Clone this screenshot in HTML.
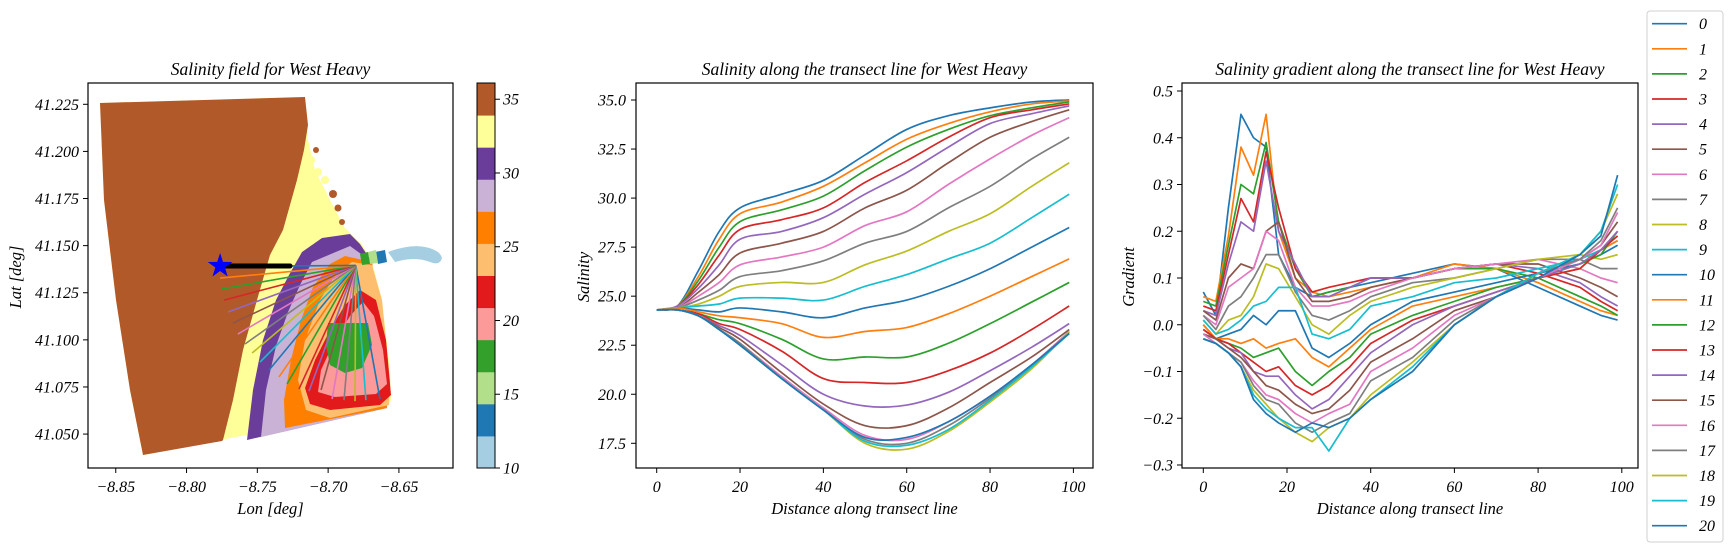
<!DOCTYPE html>
<html><head><meta charset="utf-8">
<style>
html,body{margin:0;padding:0;background:#fff;}
svg{display:block;font-family:"Liberation Serif","DejaVu Serif",serif;font-style:italic;}
</style></head>
<body>
<svg id="fig" width="1733" height="552" viewBox="0 0 1733 552" xmlns="http://www.w3.org/2000/svg"></svg>
<script>
// ---------- data ----------
const seriesNames = ["0","1","2","3","4","5","6","7","8","9","10","11","12","13","14","15","16","17","18","19","20"];
const tab10 = ["#1f77b4","#ff7f0e","#2ca02c","#d62728","#9467bd","#8c564b","#e377c2","#7f7f7f","#bcbd22","#17becf"];
// salinity along transect
const salX = [0,5,10,15,20,30,40,50,60,70,80,90,99];
const salS0 = [24.3,24.5,26.3,28.3,29.5,30.2,30.9,32.2,33.5,34.2,34.6,34.9,35.0];
const salS1 = [24.3,24.5,26.0,27.9,29.2,29.8,30.6,31.8,33.0,33.8,34.4,34.8,34.95];
const salS2 = [24.3,24.5,25.8,27.5,28.8,29.4,30.1,31.4,32.6,33.5,34.2,34.6,34.9];
const salS3 = [24.3,24.5,25.6,27.1,28.4,28.9,29.5,30.8,31.9,33.1,34.1,34.5,34.8];
const salS4 = [24.3,24.5,25.4,26.6,27.9,28.3,29.0,30.2,31.3,32.6,33.8,34.3,34.7];
const salS5 = [24.3,24.4,25.2,26.1,27.2,27.7,28.3,29.5,30.4,31.8,33.1,33.9,34.5];
const salS6 = [24.3,24.4,25.0,25.7,26.6,27.0,27.5,28.6,29.3,30.7,32.0,33.2,34.1];
const salS7 = [24.3,24.4,24.8,25.3,26.0,26.3,26.8,27.7,28.3,29.5,30.6,32.0,33.1];
const salS8 = [24.3,24.4,24.6,25.0,25.5,25.7,25.7,26.6,27.3,28.3,29.2,30.6,31.8];
const salS9 = [24.3,24.4,24.5,24.6,24.9,24.9,24.8,25.5,26.1,26.9,27.7,29.0,30.2];
const salS10 = [24.3,24.4,24.3,24.2,24.4,24.2,23.9,24.4,24.8,25.5,26.4,27.5,28.5];
const salS11 = [24.3,24.4,24.2,24.0,23.9,23.6,22.9,23.2,23.4,24.1,25.0,26.0,26.9];
const salS12 = [24.3,24.3,24.1,23.8,23.6,22.8,21.8,21.9,21.9,22.6,23.6,24.7,25.7];
const salS13 = [24.3,24.3,24.1,23.6,23.3,22.2,20.8,20.6,20.6,21.2,22.1,23.3,24.5];
const salS14 = [24.3,24.3,24.0,23.5,23.0,21.5,20.0,19.4,19.45,20.1,21.2,22.4,23.6];
const salS15 = [24.3,24.3,24.0,23.4,22.8,21.1,19.5,18.4,18.4,19.3,20.6,21.9,23.3];
const salS16 = [24.3,24.3,24.0,23.3,22.6,20.9,19.3,17.9,17.7,18.6,19.9,21.5,23.2];
const salS17 = [24.3,24.3,24.0,23.3,22.6,20.8,19.2,17.7,17.5,18.4,19.8,21.4,23.2];
const salS18 = [24.3,24.3,24.0,23.3,22.5,20.8,19.2,17.5,17.2,18.1,19.6,21.3,23.2];
const salS19 = [24.3,24.3,24.0,23.3,22.5,20.8,19.2,17.6,17.4,18.2,19.7,21.4,23.1];
const salS20 = [24.3,24.3,24.0,23.3,22.5,20.8,19.2,17.8,17.8,18.6,19.9,21.5,23.1];
const salSeries = [salS0,salS1,salS2,salS3,salS4,salS5,salS6,salS7,salS8,salS9,salS10,salS11,salS12,salS13,salS14,salS15,salS16,salS17,salS18,salS19,salS20];
const salTicksY = [17.5,20.0,22.5,25.0,27.5,30.0,32.5,35.0];
const distTicks = [0,20,40,60,80,100];
// gradient along transect
const grX = [0,3,6,9,12,15,18,22,26,30,35,40,50,60,70,80,90,95,99];
const grS0 = [.07,.02,.25,.45,.40,.38,.15,.08,.06,.07,.08,.09,.11,.13,.12,.08,.04,.02,.01];
const grS1 = [.06,.05,.19,.38,.32,.45,.2,.1,.07,.06,.07,.08,.1,.13,.12,.09,.05,.03,.02];
const grS2 = [.05,.04,.17,.3,.28,.39,.22,.12,.06,.07,.08,.1,.1,.12,.12,.1,.06,.04,.02];
const grS3 = [.04,.03,.15,.27,.22,.37,.25,.12,.07,.08,.09,.1,.1,.12,.13,.11,.08,.05,.03];
const grS4 = [.03,.02,.13,.22,.2,.35,.2,.13,.06,.06,.08,.1,.1,.12,.13,.12,.09,.06,.04];
const grS5 = [.03,.01,.1,.13,.12,.2,.22,.1,.05,.05,.06,.08,.1,.12,.13,.13,.1,.08,.06];
const grS6 = [.02,.0,.08,.1,.12,.2,.18,.08,.04,.04,.05,.07,.1,.12,.13,.14,.12,.1,.09];
const grS7 = [.02,-.01,.04,.06,.1,.15,.15,.07,.02,.01,.03,.06,.09,.1,.12,.14,.14,.12,.12];
const grS8 = [.01,-.02,.01,.02,.06,.13,.12,.06,.0,-.02,.02,.05,.08,.1,.12,.14,.15,.14,.15];
const grS9 = [.01,-.02,-.01,.01,.04,.05,.08,.08,-.02,-.03,-.01,.04,.06,.09,.1,.12,.14,.16,.18];
const grS10 = [.0,-.03,-.02,-.01,.02,.0,.03,.03,-.05,-.07,-.04,.0,.05,.07,.09,.11,.13,.15,.17];
const grS11 = [.0,-.03,-.03,-.04,-.03,-.05,-.04,-.03,-.07,-.09,-.05,-.01,.04,.06,.08,.1,.12,.16,.18];
const grS12 = [-.01,-.03,-.04,-.05,-.07,-.06,-.05,-.1,-.13,-.1,-.07,-.02,.02,.05,.08,.1,.13,.15,.2];
const grS13 = [-.01,-.03,-.04,-.06,-.08,-.1,-.09,-.13,-.15,-.13,-.09,-.04,.01,.04,.07,.1,.12,.16,.19];
const grS14 = [-.02,-.03,-.05,-.06,-.1,-.11,-.11,-.15,-.18,-.16,-.11,-.06,.0,.04,.07,.1,.13,.16,.2];
const grS15 = [-.02,-.03,-.05,-.07,-.1,-.13,-.14,-.17,-.19,-.18,-.14,-.08,-.03,.03,.06,.1,.14,.17,.22];
const grS16 = [-.02,-.04,-.06,-.08,-.12,-.15,-.16,-.19,-.21,-.19,-.17,-.1,-.05,.02,.06,.1,.14,.17,.24];
const grS17 = [-.03,-.04,-.06,-.08,-.13,-.16,-.17,-.21,-.23,-.21,-.19,-.12,-.07,.01,.06,.11,.14,.18,.25];
const grS18 = [-.03,-.04,-.06,-.09,-.14,-.17,-.2,-.23,-.25,-.22,-.2,-.15,-.08,.0,.06,.11,.15,.2,.28];
const grS19 = [-.03,-.04,-.06,-.09,-.15,-.18,-.2,-.22,-.22,-.27,-.2,-.16,-.09,.0,.06,.11,.15,.2,.3];
const grS20 = [-.03,-.04,-.06,-.09,-.16,-.19,-.21,-.23,-.21,-.22,-.2,-.16,-.1,.0,.06,.1,.15,.19,.32];
const grSeries = [grS0,grS1,grS2,grS3,grS4,grS5,grS6,grS7,grS8,grS9,grS10,grS11,grS12,grS13,grS14,grS15,grS16,grS17,grS18,grS19,grS20];
const grTicksY = [-0.3,-0.2,-0.1,0.0,0.1,0.2,0.3,0.4,0.5];
// map
const lonTicks = [-8.85,-8.80,-8.75,-8.70,-8.65];
const latTicks = [41.050,41.075,41.100,41.125,41.150,41.175,41.200,41.225];
const fanCenter = [-8.6805,41.1395];
const starPos = [-8.7763,41.1392];
const fanEndLon = [-8.7269,-8.7763,-8.7749,-8.7735,-8.7707,-8.7672,-8.7638,-8.7587,-8.7537,-8.7481,-8.7417,-8.7347,-8.7290,-8.7206,-8.7135,-8.7050,-8.6972,-8.6888,-8.6810,-8.6733,-8.6634];
const fanEndLat = [41.1392,41.1328,41.1270,41.1211,41.1148,41.1089,41.1031,41.0978,41.0930,41.0882,41.0840,41.0803,41.0766,41.0739,41.0728,41.0734,41.0686,41.0680,41.0675,41.0680,41.0686];
const cbarColors = ["#a6cee3","#1f78b4","#b2df8a","#33a02c","#fb9a99","#e31a1c","#fdbf6f","#ff7f00","#cab2d6","#6a3d9a","#ffff99","#b15928"];
const cbarTicks = [10,15,20,25,30,35];

// ---------- helpers ----------
const svg = document.getElementById('fig');
const NS = "http://www.w3.org/2000/svg";
function mk(tag, attrs, parent){ const e=document.createElementNS(NS,tag); for(const k in attrs) e.setAttribute(k,attrs[k]); (parent||svg).appendChild(e); return e; }
function txt(s, attrs, parent){ const e=mk('text',attrs,parent); e.textContent=s; return e; }
function lin(d0,d1,r0,r1){ return v=> r0+(v-d0)*(r1-r0)/(d1-d0); }
function smoothPath(pts){
  let d="M"+pts[0][0].toFixed(2)+","+pts[0][1].toFixed(2);
  for(let i=0;i<pts.length-1;i++){
    const p0=pts[Math.max(0,i-1)],p1=pts[i],p2=pts[i+1],p3=pts[Math.min(pts.length-1,i+2)];
    const c1=[p1[0]+(p2[0]-p0[0])/6,p1[1]+(p2[1]-p0[1])/6];
    const c2=[p2[0]-(p3[0]-p1[0])/6,p2[1]-(p3[1]-p1[1])/6];
    d+=" C"+c1[0].toFixed(2)+","+c1[1].toFixed(2)+" "+c2[0].toFixed(2)+","+c2[1].toFixed(2)+" "+p2[0].toFixed(2)+","+p2[1].toFixed(2);
  }
  return d;
}
const TOP=83, BOT=468;

// ---------- Panel 1: map ----------
const mx = lin(-8.8696,-8.6118,88,453);
const my = lin(41.032,41.2363,468,83);
const g1 = mk('g',{});


const clip = mk('clipPath',{id:'mapclip'},mk('defs',{}));
mk('rect',{x:88,y:83,width:365,height:385},clip);
const field = mk('g',{'clip-path':'url(#mapclip)'},g1);


const shapes = [
 ["#ffff99","M100,103 L305,97 L308,140 L315,170 L330,200 L345,228 L362,244 L372,262 L382,300 L390,370 L391,400 L387,408 L143,455 L130,390 L116,300 L104,200 Z","yellow-zone"],
 ["#b15928","M100,103 L305,97 L308,125 L304,150 L297,180 L283,230 L270,255 L257,300 L243,350 L233,400 L223,440 L222,441 L143,455 L130,390 L116,300 L104,200 Z","brown-zone"],
 ["#6a3d9a","M350,234 L322,238 L302,252 L289,275 L276,300 L263,340 L253,390 L247,440 L387,408 L372,262 L360,244 Z","purple-zone"],
 ["#cab2d6","M350,246 L312,262 L300,285 L288,312 L276,346 L266,390 L261,437 L387,408 L372,262 Z","lilac-zone"],
 ["#ff7f00","M345,256 L330,264 L313,287 L301,320 L291,360 L284,400 L285,428 L387,408 L372,262 Z","orange-zone"],
 ["#fdbf6f","M352,262 L372,265 L382,300 L390,380 L389,405 L330,418 L306,410 L298,380 L305,340 L320,300 L336,274 Z","light-orange-zone"],
 ["#e31a1c","M360,290 L376,300 L386,340 L391,395 L380,405 L330,410 L310,404 L305,388 L315,360 L330,330 L345,305 Z","red-zone"],
 ["#fb9a99","M363,302 L374,316 L383,350 L387,384 L376,394 L335,397 L318,392 L321,370 L334,342 L350,316 Z","pink-zone"],
 ["#33a02c","M328,323 L368,323 L372,345 L362,368 L345,373 L330,365 L326,345 Z","green-zone"],
 ["#a6cee3","M388,252 Q410,244 425,247 Q440,250 442,258 Q440,266 430,262 Q415,256 395,262 Z","plume-light-blue"],
 ["#1f78b4","M375,252 L385,250 L387,262 L378,264 Z","plume-blue"],
 ["#b2df8a","M368,252 L376,250 L378,263 L370,264 Z","plume-light-green"],
 ["#33a02c","M360,254 L368,252 L370,264 L362,265 Z","plume-green"]
];
shapes.forEach(s=>{ const p=mk('path',{d:s[1],fill:s[0]},field);
  
   });
[[311,160,4,"#ffff99"],[318,172,4,"#ffff99"],[325,180,4,"#ffff99"],[333,194,4,"#b15928"],[338,208,3.5,"#b15928"],[342,222,3,"#b15928"],[316,150,3,"#b15928"]].forEach(c=>{
  const e=mk('circle',{cx:c[0],cy:c[1],r:c[2],fill:c[3]},field);
  
  
});
// fan transect lines
for(let i=seriesNames.length-1;i>=0;i--){
  const l=mk('line',{x1:mx(fanCenter[0]),y1:my(fanCenter[1]),x2:mx(fanEndLon[i]),y2:my(fanEndLat[i]),stroke:tab10[i%10],'stroke-width':1.6},g1);
  
  
}
const bl=mk('line',{x1:mx(starPos[0]),y1:my(starPos[1]),x2:mx(fanEndLon[0]),y2:my(fanEndLat[0]),stroke:'#000','stroke-width':5,'stroke-linecap':'round'},g1);


(function(){ const cx=mx(starPos[0]), cy=my(starPos[1]); let pts=[];
  for(let k=0;k<10;k++){ const r=k%2?5:13; const a=-Math.PI/2+k*Math.PI/5; pts.push((cx+r*Math.cos(a)).toFixed(1)+","+(cy+r*Math.sin(a)).toFixed(1)); }
  const st=mk('polygon',{points:pts.join(" "),fill:'#0000ff'},g1);
  
   })();
const f1=mk('rect',{x:88,y:83,width:365,height:385,fill:'none',stroke:'#000','stroke-width':1.2},g1);


lonTicks.forEach(v=>{ const x=mx(v);
  mk('line',{x1:x,y1:BOT,x2:x,y2:BOT+5,stroke:'#000'},g1);
  const t=txt((v<0?"\u2212":"")+Math.abs(v).toFixed(2),{x:x,y:492,'font-size':16,'text-anchor':'middle'},g1);
  
   });
latTicks.forEach(v=>{ const y=my(v);
  mk('line',{x1:83,y1:y,x2:88,y2:y,stroke:'#000'},g1);
  const t=txt(v.toFixed(3),{x:79,y:y+5.5,'font-size':16,'text-anchor':'end'},g1);
  
   });
let t1=txt("Salinity field for West Heavy",{x:270.5,y:75,'font-size':17.5,'text-anchor':'middle'},g1);
 
t1=txt("Lon [deg]",{x:270.5,y:514,'font-size':16.5,'text-anchor':'middle'},g1);
 
t1=txt("Lat [deg]",{x:0,y:0,'font-size':16.5,'text-anchor':'middle',transform:'translate(21,277) rotate(-90)'},g1);
 
// colorbar
const cb = mk('g',{},g1);


const cy = lin(10,36.1,468,83);
const binW=(36.1-10)/cbarColors.length;
cbarColors.forEach((c,i)=>{ const y0=cy(10+(i+1)*binW), y1=cy(10+i*binW);
  const r=mk('rect',{x:477,y:y0,width:18,height:y1-y0+0.5,fill:c},cb);
  
   });
mk('rect',{x:477,y:83,width:18,height:385,fill:'none',stroke:'#000','stroke-width':1},cb);
cbarTicks.forEach(v=>{ const y=cy(v);
  mk('line',{x1:495,y1:y,x2:500,y2:y,stroke:'#000'},cb);
  const t=txt(String(v),{x:503,y:y+5.5,'font-size':16},cb);
  
   });

// ---------- Panel 2: salinity ----------
const sx = lin(0,100,656.7,1073.4);
const sy = lin(17.5,35.0,443.3,100);
const g2 = mk('g',{});


salSeries.forEach((arr,i)=>{
  const pts=arr.map((v,k)=>[sx(salX[k]),sy(v)]);
  const p=mk('path',{d:smoothPath(pts),fill:'none',stroke:tab10[i%10],'stroke-width':1.7,'stroke-linejoin':'round'},g2);
  
  
});
mk('rect',{x:636,y:83,width:457,height:385,fill:'none',stroke:'#000','stroke-width':1.2},g2);
distTicks.forEach(v=>{ const x=sx(v);
  mk('line',{x1:x,y1:BOT,x2:x,y2:BOT+5,stroke:'#000'},g2);
  const t=txt(String(v),{x:x,y:492,'font-size':16,'text-anchor':'middle'},g2);
  
   });
salTicksY.forEach(v=>{ const y=sy(v);
  mk('line',{x1:631,y1:y,x2:636,y2:y,stroke:'#000'},g2);
  const t=txt(v.toFixed(1),{x:626,y:y+5.5,'font-size':16,'text-anchor':'end'},g2);
  
   });
let t2=txt("Salinity along the transect line for West Heavy",{x:864.5,y:75,'font-size':17.5,'text-anchor':'middle'},g2);
 
t2=txt("Distance along transect line",{x:864.5,y:514,'font-size':16.5,'text-anchor':'middle'},g2);
 
t2=txt("Salinity",{x:0,y:0,'font-size':16.5,'text-anchor':'middle',transform:'translate(589,277) rotate(-90)'},g2);
 

// ---------- Panel 3: gradient ----------
const gx = lin(0,100,1203.3,1621.8);
const gy = lin(-0.3,0.5,465,91);
const g3 = mk('g',{});


grSeries.forEach((arr,i)=>{
  const pts=arr.map((v,k)=>gx(grX[k]).toFixed(2)+","+gy(v).toFixed(2)).join(" ");
  const p=mk('polyline',{points:pts,fill:'none',stroke:tab10[i%10],'stroke-width':1.7,'stroke-linejoin':'round'},g3);
  
  
});
mk('rect',{x:1182,y:83,width:456,height:385,fill:'none',stroke:'#000','stroke-width':1.2},g3);
distTicks.forEach(v=>{ const x=gx(v);
  mk('line',{x1:x,y1:BOT,x2:x,y2:BOT+5,stroke:'#000'},g3);
  const t=txt(String(v),{x:x,y:492,'font-size':16,'text-anchor':'middle'},g3);
  
   });
grTicksY.forEach(v=>{ const y=gy(v);
  mk('line',{x1:1177,y1:y,x2:1182,y2:y,stroke:'#000'},g3);
  const t=txt((v<0?"\u2212":"")+Math.abs(v).toFixed(1),{x:1173,y:y+5.5,'font-size':16,'text-anchor':'end'},g3);
  
   });
let t3=txt("Salinity gradient along the transect line for West Heavy",{x:1410,y:75,'font-size':17.5,'text-anchor':'middle'},g3);
 
t3=txt("Distance along transect line",{x:1410,y:514,'font-size':16.5,'text-anchor':'middle'},g3);
 
t3=txt("Gradient",{x:0,y:0,'font-size':16.5,'text-anchor':'middle',transform:'translate(1134,277) rotate(-90)'},g3);
 

// ---------- Legend ----------
const lg = mk('g',{});


mk('rect',{x:1647,y:11,width:76,height:531,rx:3,fill:'#fff',stroke:'#d0d0d0','stroke-width':1},lg);
seriesNames.forEach((n,i)=>{
  const y=23.7+i*25.1;
  const e=mk('g',{},lg);
  
  
  mk('line',{x1:1652,y1:y,x2:1687,y2:y,stroke:tab10[i%10],'stroke-width':1.7},e);
  txt(n,{x:1699,y:y+5.5,'font-size':16},e);
});
</script>
</body></html>
